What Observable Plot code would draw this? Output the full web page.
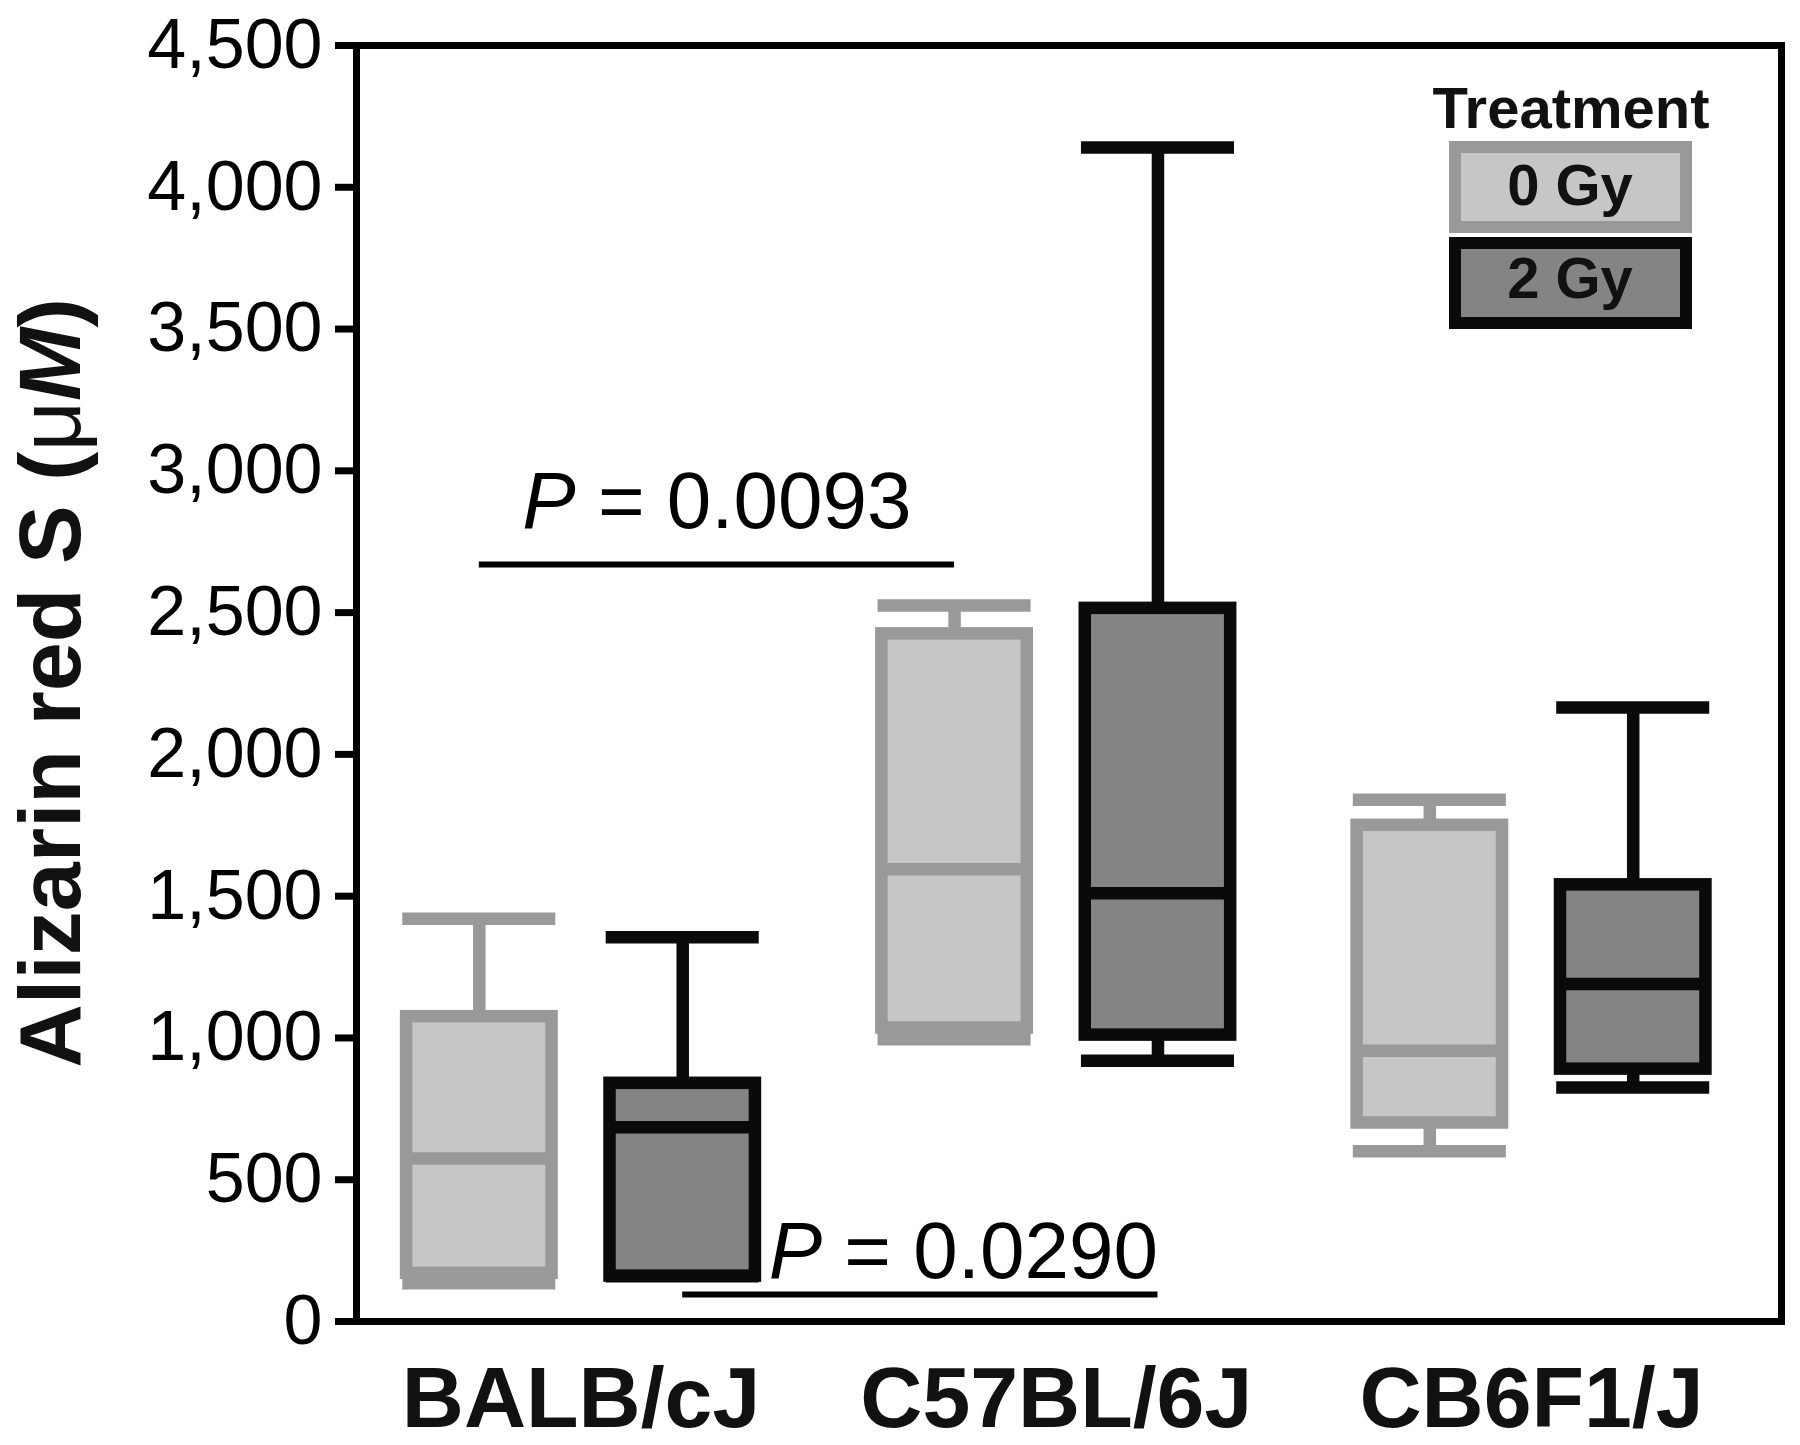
<!DOCTYPE html>
<html><head><meta charset="utf-8">
<script src="https://cdn.jsdelivr.net/npm/d3@7"></script>
<script src="https://cdn.jsdelivr.net/npm/@observablehq/plot@0.6"></script>
<style>
body{margin:0;background:#fff;}
#chart{position:relative;width:1800px;height:1445px;}
</style></head><body><div id="chart"></div>
<script>
// ---- data ----
const strains = ["BALB/cJ", "C57BL/6J", "CB6F1/J"];
const treatments = ["0 Gy", "2 Gy"];
// order: BALB 0Gy, BALB 2Gy, C57 0Gy, C57 2Gy, CB6F1 0Gy, CB6F1 2Gy
const whiskerMin = [135, 160, 995, 920, 600, 825];
const quartile1 = [170, 160, 1035, 1010, 700, 890];
const medians = [575, 685, 1595, 1510, 955, 1190];
const quartile3 = [1075, 840, 2425, 2515, 1750, 1540];
const whiskerMax = [1420, 1355, 2525, 4140, 1840, 2165];
const yTicks = [0, 500, 1000, 1500, 2000, 2500, 3000, 3500, 4000, 4500];
const fillColors = ["#c6c6c6", "#848484"];
const strokeColors = ["#999999", "#0a0a0a"];
// significance annotations
const pLabels = ["P = 0.0093", "P = 0.0290"];
const pFrom = [["BALB/cJ", "0 Gy"], ["BALB/cJ", "2 Gy"]];
const pTo = [["C57BL/6J", "0 Gy"], ["C57BL/6J", "2 Gy"]];
const pLineY = [2670, 95];
const pTextY = [2797, 152];

// ---- layout helpers ----
const groupOffset = 0.214, boxHalf = 0.153, capHalf = 0.161;
const xPos = (s, t) => strains.indexOf(s) + (treatments.indexOf(t) === 0 ? -groupOffset : groupOffset);

const rows = whiskerMin.map((_, i) => {
  const s = strains[Math.floor(i / 2)], t = treatments[i % 2];
  return {strain: s, treatment: t, x: xPos(s, t), min: whiskerMin[i], q1: quartile1[i],
    median: medians[i], q3: quartile3[i], max: whiskerMax[i],
    fill: fillColors[i % 2], stroke: strokeColors[i % 2]};
});
const comps = pLabels.map((label, i) => ({label, x1: xPos(...pFrom[i]), x2: xPos(...pTo[i]), y: pLineY[i], ty: pTextY[i]}));

const SW = 12.5;
const plot = Plot.plot({
  width: 1800, height: 1445,
  marginLeft: 356, marginRight: 19, marginTop: 45, marginBottom: 124,
  style: {fontFamily: "'Liberation Sans', Arial, sans-serif", background: "#fff", color: "#000"},
  x: {domain: [-0.4724, 2.526], axis: null},
  y: {domain: [0, 4500], axis: null},
  marks: [
    Plot.ruleX(rows, {x: "x", y1: "q3", y2: "max", stroke: "stroke", strokeWidth: SW}),
    Plot.ruleX(rows, {x: "x", y1: "min", y2: "q1", stroke: "stroke", strokeWidth: SW}),
    Plot.rect(rows, {x1: d => d.x - boxHalf, x2: d => d.x + boxHalf, y1: "q1", y2: "q3", fill: "fill", stroke: "stroke", strokeWidth: SW}),
    Plot.ruleY(rows, {y: "median", x1: d => d.x - boxHalf, x2: d => d.x + boxHalf, stroke: "stroke", strokeWidth: SW}),
    Plot.ruleY(rows, {y: "max", x1: d => d.x - capHalf, x2: d => d.x + capHalf, stroke: "stroke", strokeWidth: SW}),
    Plot.ruleY(rows, {y: "min", x1: d => d.x - capHalf, x2: d => d.x + capHalf, stroke: "stroke", strokeWidth: SW}),
    Plot.ruleY(comps, {y: "y", x1: "x1", x2: "x2", stroke: "#000", strokeWidth: 6}),
    Plot.text(comps.slice(0, 1), {x: d => (d.x1 + d.x2) / 2, y: "ty", text: "label", textAnchor: "middle", lineAnchor: "bottom", fontSize: 80, fill: "#000"}),
    Plot.text(comps.slice(1), {x: "x2", y: "ty", text: "label", textAnchor: "end", lineAnchor: "bottom", fontSize: 80, fill: "#000"}),
    Plot.axisY({ticks: yTicks, tickFormat: d3.format(","), tickSize: 21, tickPadding: 13, fontSize: 70, strokeWidth: 7, label: null}),
    Plot.axisX({ticks: [0, 1, 2], tickFormat: i => strains[i], tickSize: 0, tickPadding: 44, fontSize: 86, fontWeight: "bold", fill: "#111", label: null}),
    Plot.frame({stroke: "#000", strokeWidth: 7})
  ]
});

const svg = d3.select(plot);
// italic P in annotations
svg.selectAll("text").each(function() {
  const t = d3.select(this);
  const txt = t.text();
  if (txt.startsWith("P = ")) {
    t.text(null);
    t.append("tspan").attr("font-style", "italic").text("P");
    t.append("tspan").text(txt.slice(1));
  }
});
// y-axis title
const yl = svg.append("text")
  .attr("transform", "translate(80,683) rotate(-90)")
  .attr("text-anchor", "middle")
  .attr("font-family", "'Liberation Sans', Arial, sans-serif")
  .attr("font-size", 88).attr("font-weight", "bold").attr("fill", "#111");
yl.append("tspan").text("Alizarin red S (");
yl.append("tspan").attr("font-weight", "normal").text("\u03bc");
yl.append("tspan").attr("font-style", "italic").text("M");
yl.append("tspan").text(")");
// legend
const lg = svg.append("g").attr("font-family", "'Liberation Sans', Arial, sans-serif").attr("font-weight", "bold");
lg.append("text").attr("x", 1571).attr("y", 128).attr("text-anchor", "middle").attr("font-size", 58).attr("fill", "#111").text("Treatment");
treatments.forEach((t, i) => {
  lg.append("rect").attr("x", 1455).attr("y", 147 + i * 96).attr("width", 231).attr("height", 80)
    .attr("fill", fillColors[i]).attr("stroke", strokeColors[i]).attr("stroke-width", 12);
  lg.append("text").attr("x", 1570).attr("y", 205 + i * 93).attr("text-anchor", "middle").attr("font-size", 58).attr("fill", "#111").text(t);
});
document.getElementById("chart").appendChild(plot);
</script></body></html>
